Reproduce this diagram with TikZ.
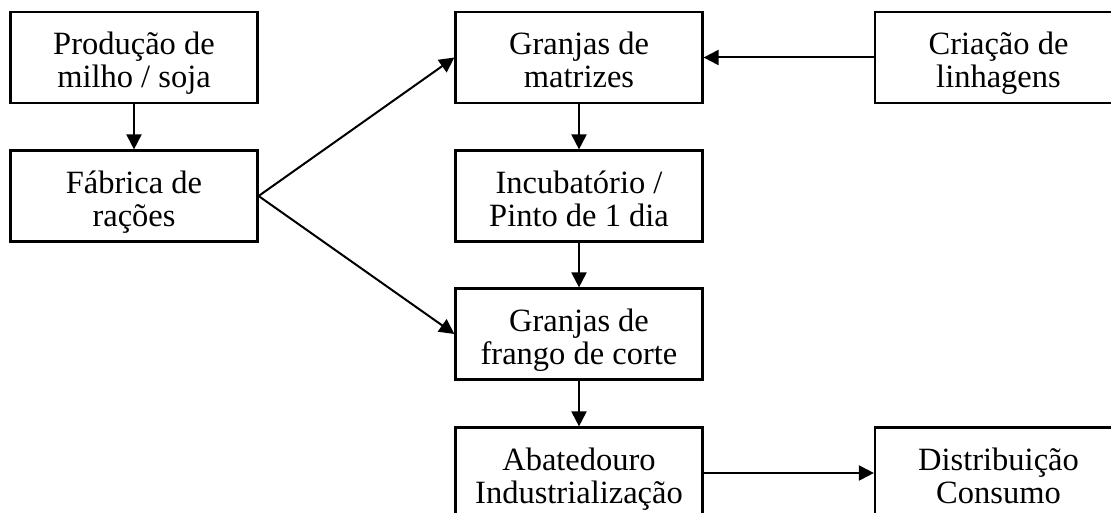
\documentclass[tikz,border=0pt]{standalone}
\usepackage{fontspec}
\setmainfont{Liberation Serif}
\usetikzlibrary{arrows.meta,calc}
\begin{document}
\begin{tikzpicture}[x=1pt,y=-1pt,
  box/.style={draw=black,line width=2.2pt,rectangle,minimum width=247pt,minimum height=91pt,inner sep=0pt},
  lbl/.style={align=center,font=\fontsize{32.5}{33}\selectfont,inner sep=0pt},
  arr/.style={line width=2pt,-{Triangle[length=15pt,width=15pt]}}]
\clip (0,0) rectangle (1111,513);
\fill[white] (0,0) rectangle (1111,513);
\node[box] (b1) at (134,57.5) {};
\node[box] (b2) at (134,196) {};
\node[box] (b3) at (579,57.5) {};
\node[box] (b4) at (998.5,57.5) {};
\node[box] (b5) at (579,196) {};
\node[box] (b6) at (579,334) {};
\node[box] (b7) at (579,473) {};
\node[box] (b8) at (998.5,473) {};
\node[lbl] (t1) at ($(b1.center)+(0,7)$) {\strut Produção de\\\strut milho / soja};
\node[lbl] (t2) at ($(b2.center)+(0,7)$) {\strut Fábrica de\\\strut rações};
\node[lbl] (t3) at ($(b3.center)+(0,7)$) {\strut Granjas de\\\strut matrizes};
\node[lbl] (t4) at ($(b4.center)+(0,7)$) {\strut Criação de\\\strut linhagens};
\node[lbl] (t5) at ($(b5.center)+(0,7)$) {\strut Incubatório /\\\strut Pinto de 1 dia};
\node[lbl] (t6) at ($(b6.center)+(0,7)$) {\strut Granjas de\\\strut frango de corte};
\node[lbl] (t7) at ($(b7.center)+(0,7)$) {\strut Abatedouro\\\strut Industrialização};
\node[lbl] (t8) at ($(b8.center)+(0,7)$) {\strut Distribuição\\\strut Consumo};
\draw[arr] (b1.south) -- (b2.north);
\draw[arr] (b2.east) -- (b3.west);
\draw[arr] (b2.east) -- (b6.west);
\draw[arr] (b4.west) -- (b3.east);
\draw[arr] (b3.south) -- (b5.north);
\draw[arr] (b5.south) -- (b6.north);
\draw[arr] (b6.south) -- (b7.north);
\draw[arr] (b7.east) -- (b8.west);
\end{tikzpicture}
\end{document}
